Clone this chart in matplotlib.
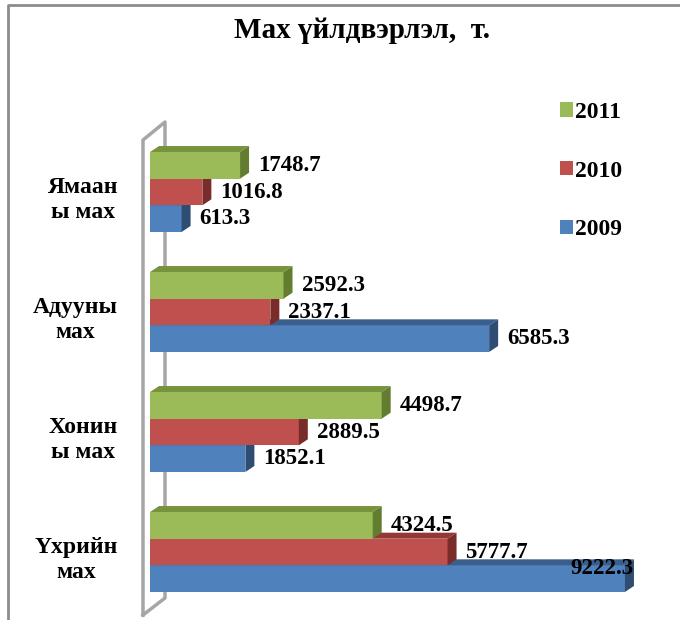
import matplotlib
matplotlib.use('Agg')
import matplotlib.pyplot as plt
from matplotlib.patches import Polygon
from matplotlib.lines import Line2D

# data
categories = ['Ямаан\nы мах', 'Адууны\nмах', 'Хонин\nы мах', 'Үхрийн\nмах']
years      = ['2011', '2010', '2009']
v2011      = [1748.7, 2592.3, 4498.7, 4324.5]
v2010      = [1016.8, 2337.1, 2889.5, 5777.7]
v2009      = [613.3, 6585.3, 1852.1, 9222.3]

# front, top, side colours
colours = {'2011': ('#9BBB59', '#77933C', '#637D30'),
           '2010': ('#C0504D', '#953735', '#7A2C2A'),
           '2009': ('#4F81BD', '#3A5F8C', '#2E4D73')}

plt.rcParams['font.family'] = ['Liberation Serif', 'DejaVu Serif']
plt.rcParams['font.weight'] = 'bold'

W, H = 680, 620
fig = plt.figure(figsize=(W/100, H/100), dpi=100)
ax  = fig.add_axes([150/W, 8/H, 515/W, 480/H])
xmax = 10000
ax.set_xlim(0, xmax)
ax.set_ylim(3.5, -0.5)
ax.axis('off')

px = xmax/515.0      # data units per pixel, x
py = 1/120.0         # data units per pixel, y
dx, dy = 9*px, 6*py  # 3-D depth of the bars
bh = 0.222

# left wall
wx0, wx1 = -7*px, 15*px
wall = Line2D([wx0, wx0, wx1, wx1, wx0],
              [3.5 + 3*py, -0.5 + 8*py, -0.5 - 10*py, 3.5 - 14*py, 3.5 + 3*py],
              color='#A6A6A6', lw=2.5, zorder=0, clip_on=False)
ax.add_line(wall)

series = {'2011': v2011, '2010': v2010, '2009': v2009}
for k in (2, 1, 0):
    year = years[k]
    front, top, side = colours[year]
    for i, v in enumerate(series[year]):
        y = i + (k - 1)*bh
        ax.barh(y, v, height=bh, left=0, color=front, zorder=2 + 3*(2 - k))
        yt, yb = y - bh/2, y + bh/2
        ax.add_patch(Polygon([(0, yt), (v, yt), (v + dx, yt - dy), (dx, yt - dy)],
                             closed=True, facecolor=top, edgecolor='none',
                             zorder=2 + 3*(2 - k), clip_on=False))
        ax.add_patch(Polygon([(v, yt), (v + dx, yt - dy), (v + dx, yb - dy), (v, yb)],
                             closed=True, facecolor=side, edgecolor='none',
                             zorder=2 + 3*(2 - k), clip_on=False))
        if v > 0.85*xmax:
            ax.text(v + dx, y - 10*py, '{0:.1f}'.format(v), ha='right', va='center',
                    fontsize=16.5, fontweight='bold', zorder=20, clip_on=False)
        else:
            ax.text(v + dx + 9*px, y, '{0:.1f}'.format(v), ha='left', va='center',
                    fontsize=16.5, fontweight='bold', zorder=20, clip_on=False)

for i, c in enumerate(categories):
    ax.text(-32*px, i + 8*py, c, ha='right', va='center', multialignment='center',
            fontsize=17, fontweight='bold', clip_on=False)

handles = [Polygon([(0, 0)], closed=True, facecolor=colours[y][0], edgecolor='none') for y in years]
fig.legend(handles, years, loc='upper left', bbox_to_anchor=(548/W, 1 - 90/H),
           bbox_transform=fig.transFigure, frameon=False,
           handlelength=0.55, handleheight=0.55, handletextpad=0.1,
           labelspacing=1.6, borderpad=0, prop={'weight': 'bold', 'size': 17})

fig.text(362/W, 1 - 31/H, 'Мах үйлдвэрлэл,  т.', ha='center', va='center',
         fontsize=21, fontweight='bold')

# outer chart border (only top and left are in view)
fig.add_artist(Line2D([8/W, 8/W, 1.01], [-0.01, 1 - 5/H, 1 - 5/H],
                      transform=fig.transFigure, color='#8C8C8C', lw=2))

fig.savefig('out.png', dpi=100)
